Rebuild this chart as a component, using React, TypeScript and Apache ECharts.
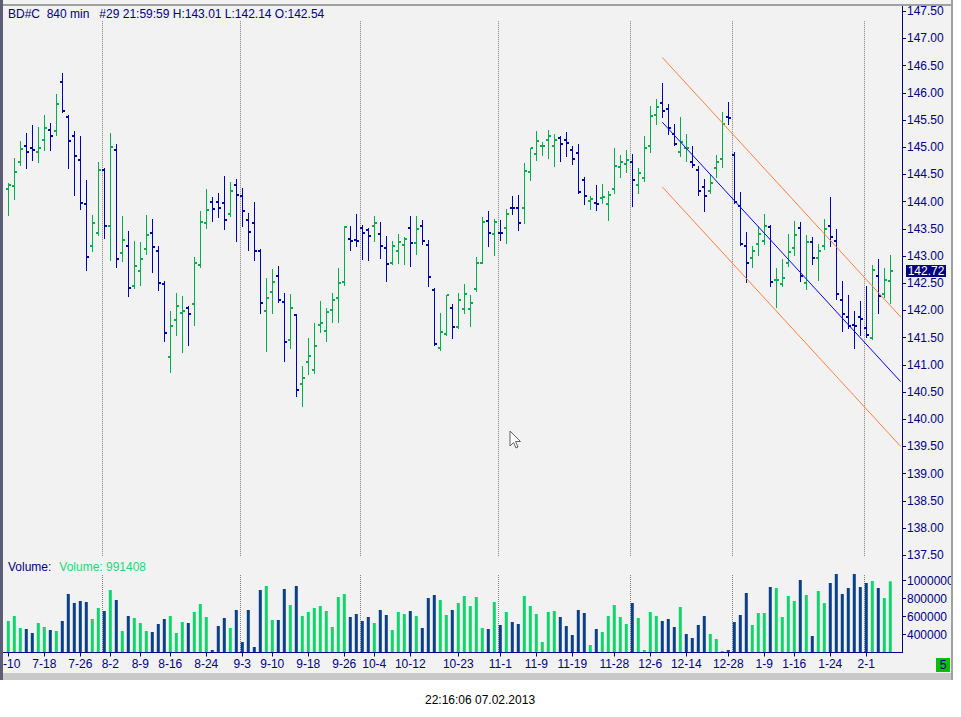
import React, { useEffect, useRef } from "react";
import * as echarts from "echarts";

const symbol = "BD#C";
const timeframe = "840 min";
const barTag = "#29";
const lastTime = "21:59:59";
const clockText = "22:16:06 07.02.2013";

const opens = [144.23,144.28,144.72,145.03,144.98,144.92,145.14,145.31,145.29,146.19,145.55,145.20,144.76,143.95,143.18,143.42,144.59,143.55,144.94,143.05,143.18,142.44,142.72,143.12,143.42,143.09,142.48,141.14,141.82,141.95,142.04,142.11,142.83,143.60,143.99,143.99,143.97,143.77,144.30,144.10,143.66,143.60,143.10,141.98,142.33,142.63,142.15,141.45,141.91,140.64,141.05,140.90,141.73,141.63,142.00,142.22,142.52,143.32,143.29,143.51,143.47,143.56,143.40,143.14,142.88,143.10,143.21,143.51,143.23,143.56,143.20,142.37,141.30,141.56,142.04,141.69,142.02,142.02,142.39,142.88,143.64,143.40,143.43,143.51,143.89,143.88,143.89,144.54,144.87,145.02,145.14,145.02,145.16,145.14,144.94,144.89,144.39,144.01,143.97,144.06,143.95,144.23,144.63,144.70,144.72,144.30,144.43,145.03,145.59,145.81,145.70,145.24,144.91,144.99,144.72,144.58,144.26,144.19,144.61,144.78,145.56,144.86,143.92,143.18,142.96,143.22,143.27,143.53,142.55,142.48,142.87,143.14,143.52,142.50,143.25,142.96,143.18,143.55,143.28,142.20,141.87,141.74,141.87,141.67,141.49,142.64,142.30,142.54];
const highs = [144.34,144.81,145.11,145.26,145.41,145.37,145.59,145.44,145.98,146.36,145.59,145.30,145.21,144.40,143.75,144.73,144.62,145.26,145.06,143.74,143.46,143.28,143.26,143.75,143.68,143.18,142.54,141.99,142.32,142.27,142.08,142.98,143.83,144.23,144.09,144.16,144.47,144.36,144.42,144.25,143.79,143.99,143.12,142.60,142.76,142.82,142.32,142.30,141.93,140.98,141.49,141.77,142.17,142.04,142.32,142.78,143.55,143.55,143.77,143.57,143.52,143.74,143.63,143.37,143.28,143.40,143.35,143.74,143.74,143.66,143.29,142.41,141.95,142.29,142.12,142.32,142.49,142.28,142.98,143.72,143.83,143.68,143.66,143.86,144.10,144.12,144.71,144.99,145.30,145.10,145.32,145.24,145.21,145.28,145.02,145.06,144.46,144.10,144.31,144.32,144.20,144.99,144.86,144.95,144.88,144.62,145.21,145.76,145.89,146.18,145.79,145.43,145.56,145.24,145.02,144.65,144.42,144.51,144.86,145.65,145.83,144.91,144.18,143.44,143.18,143.55,143.77,143.57,142.78,142.95,143.40,143.64,143.63,143.39,143.35,143.22,143.68,144.09,143.50,142.54,142.28,141.99,142.17,142.45,142.83,142.95,142.78,143.01];
const lows = [143.75,144.05,144.67,144.62,144.77,144.73,144.94,144.94,145.22,145.64,144.62,144.13,143.87,142.75,143.09,143.39,143.34,142.93,142.79,142.91,142.27,142.42,142.46,143.04,142.71,142.38,141.43,140.87,141.55,141.24,141.37,141.73,142.80,143.52,143.64,143.72,143.50,143.74,143.28,143.55,143.11,142.93,141.95,141.25,141.95,142.15,141.07,141.31,140.43,140.25,140.84,140.85,141.61,141.43,141.78,141.79,142.46,143.11,143.19,142.95,142.93,143.28,142.96,142.54,142.85,142.87,142.85,142.82,143.04,143.22,142.45,141.36,141.28,141.54,141.50,141.67,141.96,141.72,142.35,142.87,143.19,143.01,143.30,143.23,143.78,143.48,143.61,144.40,144.77,144.86,144.81,144.66,144.75,144.84,144.70,144.15,143.96,143.87,143.85,143.98,143.67,144.15,144.46,144.55,143.91,144.16,144.37,144.92,145.43,145.56,145.25,145.04,144.84,144.75,144.64,144.13,143.82,144.16,144.46,144.64,145.43,143.97,143.20,142.53,142.80,143.02,143.22,142.44,142.07,142.45,142.82,143.02,142.54,142.39,142.85,142.55,143.13,143.18,142.21,141.63,141.68,141.30,141.55,141.52,141.48,141.95,142.25,142.14];
const closes = [144.30,144.54,144.96,144.91,144.94,144.98,145.35,145.20,145.79,145.66,145.11,144.83,143.97,142.99,143.60,144.59,143.56,145.00,142.94,143.29,142.41,142.81,142.94,143.38,143.16,142.50,141.58,141.71,142.09,141.98,141.93,142.87,143.62,143.84,143.86,143.89,143.67,144.19,144.12,143.82,143.45,143.09,142.13,142.22,142.52,142.19,141.41,142.04,140.53,140.75,141.17,141.34,141.76,141.97,142.19,142.50,143.53,143.27,143.27,143.43,143.36,143.60,143.18,142.85,143.18,143.25,143.31,143.23,143.49,143.27,142.61,141.39,141.60,142.28,141.69,142.19,142.31,142.13,142.87,143.62,143.43,143.62,143.42,143.77,143.88,143.60,144.56,144.98,145.11,145.03,145.20,145.14,145.05,145.07,144.78,144.17,144.10,144.04,143.95,144.08,144.12,144.65,144.72,144.76,144.39,144.52,144.98,145.57,145.73,145.66,145.35,145.05,145.09,144.99,144.67,144.19,144.10,144.34,144.72,145.42,145.53,143.99,143.22,142.88,143.09,143.40,143.56,142.52,142.56,142.59,143.07,143.38,142.63,143.25,142.96,143.10,143.49,143.35,142.30,141.93,141.71,141.71,141.84,141.54,142.74,142.26,142.55,142.72];
const volumes = [550000,605500,472200,461000,416600,527700,483300,450000,438800,550000,850000,750000,772200,761100,572200,694400,661100,894400,783300,438800,605500,583300,527700,438800,427700,516600,572200,605500,416600,538800,527700,650000,738800,594400,227700,494400,583300,472200,672200,316600,672200,261000,894400,938800,561100,561100,905500,727700,938800,605500,650000,694400,716600,661100,483300,816600,850000,594400,627700,550000,594400,527700,672200,616600,450000,650000,627700,661100,605500,472200,805500,838800,783300,616600,672200,750000,827700,716600,816600,472200,461000,761100,505500,650000,538800,516600,827700,716600,627700,316600,650000,661100,594400,494400,394400,672200,638800,283300,461000,427700,605500,727700,594400,516600,750000,583300,227700,650000,605500,550000,572200,483300,705500,405500,361000,505500,605500,405500,350000,216600,227700,538800,616600,861100,505500,638800,638800,927700,916600,594400,827700,772200,1005500,838800,383300,883300,750000,972200,1072200,850000,916600,1072200,927700,972200,994400,916600,805500,991408];

const labelIdx = [0,6,12,17,22,27,33,39,44,50,56,61,67,75,82,88,94,101,107,113,120,126,131,137,143];
const labelText = ["7-10","7-18","7-26","8-2","8-9","8-16","8-24","9-3","9-10","9-18","9-26","10-4","10-12","10-23","11-1","11-9","11-19","11-28","12-6","12-14","12-28","1-9","1-16","1-24","2-1"];
const separatorIdx = [16,39,59,82,104,121,143];

const priceTicks = { min: 137.5, max: 147.5, step: 0.5 };
const volumeTicks = { min: 200000, max: 1200000, step: 200000 };

const channelX = [109, 148.73];
const channelMid = [145.46, 140.69];
const channelHalf = 1.19;

const UP = "#00b050";
const DOWN = "#0000a8";
const VUP = "#10d46c";
const VDOWN = "#0a3f8a";
const NAVY = "#000080";
const FONT = '"Liberation Sans", Arial, sans-serif';

function buildOption() {
  const n = closes.length;
  const last = n - 1;
  const ohlc = closes.map((c, i) => [i, opens[i], highs[i], lows[i], c]);
  const vol = volumes.map((v, i) => ({
    value: [i, v],
    itemStyle: { color: closes[i] > opens[i] ? VUP : VDOWN },
  }));
  const header =
    `${symbol}\u00a0\u00a0${timeframe}\u00a0\u00a0\u00a0${barTag} ${lastTime} ` +
    `H:${highs[last].toFixed(2)} L:${lows[last].toFixed(2)} O:${opens[last].toFixed(2)}`;

  const xBase = { type: "value", min: -0.5, max: 149.12, splitLine: { show: false } };

  const sepRender = (top: number, bottomPad: number) => (params: any, api: any) => {
    const cs = params.coordSys;
    const x = Math.round(api.coord([api.value(0), api.value(1)])[0]) - 2 + 0.5;
    return {
      type: "line",
      shape: { x1: x, y1: cs.y + top, x2: x, y2: cs.y + cs.height + bottomPad },
      style: { stroke: "#808080", lineWidth: 1, lineDash: [1, 1] },
      silent: true,
    };
  };

  return {
    animation: false,
    backgroundColor: "#ffffff",
    grid: [
      { left: 5.3, top: 11.2, width: 897.7, height: 544, containLabel: false, outerBoundsMode: "none" },
      { left: 5.3, top: 562.5, width: 897.7, height: 90, containLabel: false, outerBoundsMode: "none" },
    ],
    xAxis: [
      { ...xBase, gridIndex: 0, show: false, axisLine: { show: false, onZero: false } },
      {
        ...xBase,
        gridIndex: 1,
        axisLine: { show: false, onZero: false },
        axisTick: { show: true, length: 4, customValues: labelIdx, lineStyle: { color: NAVY } },
        axisLabel: {
          customValues: labelIdx,
          formatter: (v: number) => labelText[labelIdx.indexOf(Math.round(v))] ?? "",
          color: NAVY,
          fontSize: 12,
          fontFamily: FONT,
          margin: 5,
        },
      },
    ],
    yAxis: [
      {
        type: "value",
        gridIndex: 0,
        position: "right",
        min: priceTicks.min,
        max: priceTicks.max,
        interval: priceTicks.step,
        splitLine: { show: false },
        axisLine: { show: false, onZero: false },
        axisTick: { show: true, length: 3, lineStyle: { color: NAVY } },
        axisLabel: { formatter: (v: number) => v.toFixed(2), color: NAVY, fontSize: 12, fontFamily: FONT, margin: 4 },
      },
      {
        type: "value",
        gridIndex: 1,
        position: "right",
        min: volumeTicks.min,
        max: volumeTicks.max,
        interval: volumeTicks.step,
        splitLine: { show: false },
        axisLine: { show: false, onZero: false },
        axisTick: { show: true, length: 3, lineStyle: { color: NAVY } },
        axisLabel: {
          showMinLabel: false,
          showMaxLabel: false,
          formatter: (v: number) => String(v),
          color: NAVY,
          fontSize: 12,
          fontFamily: FONT,
          margin: 4,
        },
      },
    ],
    series: [
      {
        type: "custom",
        xAxisIndex: 0,
        yAxisIndex: 0,
        data: separatorIdx.map((i) => [i, 140]),
        renderItem: sepRender(10, 2),
        z: 1,
      },
      {
        type: "custom",
        xAxisIndex: 1,
        yAxisIndex: 1,
        data: separatorIdx.map((i) => [i, 400000]),
        renderItem: sepRender(12.5, 0),
        z: 1,
      },
      {
        type: "custom",
        name: "price",
        xAxisIndex: 0,
        yAxisIndex: 0,
        data: ohlc,
        encode: { x: 0, y: [1, 2, 3, 4] },
        renderItem: (params: any, api: any) => {
          const i = api.value(0);
          const o = api.value(1), h = api.value(2), l = api.value(3), c = api.value(4);
          const cx = Math.round(api.coord([i, h])[0]);
          const yH = Math.round(api.coord([i, h])[1]);
          const yL = Math.round(api.coord([i, l])[1]);
          const yO = Math.round(api.coord([i, o])[1]);
          const yC = Math.round(api.coord([i, c])[1]);
          const color = c >= o ? UP : DOWN;
          return {
            type: "group",
            children: [
              { type: "rect", shape: { x: cx, y: yH, width: 1, height: yL - yH + 1 }, style: { fill: color } },
              { type: "rect", shape: { x: cx - 2, y: yO - 1, width: 2, height: 2 }, style: { fill: color } },
              { type: "rect", shape: { x: cx + 1, y: yC - 1, width: 2, height: 2 }, style: { fill: color } },
            ],
          };
        },
        z: 3,
      },
      {
        type: "line",
        xAxisIndex: 0,
        yAxisIndex: 0,
        data: [[channelX[0], channelMid[0]], [channelX[1], channelMid[1]]],
        symbol: "none",
        lineStyle: { color: "#0000ff", width: 1 },
        z: 4,
      },
      {
        type: "line",
        xAxisIndex: 0,
        yAxisIndex: 0,
        data: [[channelX[0], channelMid[0] + channelHalf], [channelX[1], channelMid[1] + channelHalf]],
        symbol: "none",
        lineStyle: { color: "#ff7f40", width: 1 },
        z: 4,
      },
      {
        type: "line",
        xAxisIndex: 0,
        yAxisIndex: 0,
        data: [[channelX[0], channelMid[0] - channelHalf], [channelX[1], channelMid[1] - channelHalf]],
        symbol: "none",
        lineStyle: { color: "#ff7f40", width: 1 },
        z: 4,
      },
      {
        type: "bar",
        xAxisIndex: 1,
        yAxisIndex: 1,
        data: vol,
        barWidth: 3,
        z: 3,
      },
      {
        type: "custom",
        xAxisIndex: 0,
        yAxisIndex: 0,
        data: [[last, closes[last]]],
        renderItem: (params: any, api: any) => {
          const cs = params.coordSys;
          const y = api.coord([api.value(0), api.value(1)])[1];
          const x0 = cs.x + cs.width + 3;
          return {
            type: "group",
            children: [
              { type: "rect", shape: { x: x0, y: Math.round(y) - 6, width: 40, height: 12 }, style: { fill: NAVY } },
              {
                type: "text",
                style: {
                  x: x0 + 20,
                  y: Math.round(y),
                  text: api.value(1).toFixed(2),
                  fill: "#ffffff",
                  font: `12px ${FONT}`,
                  align: "center",
                  verticalAlign: "middle",
                },
              },
            ],
          };
        },
        z: 20,
      },
    ],
    graphic: [
      { type: "rect", shape: { x: 0, y: 0, width: 951, height: 673 }, style: { fill: "#f2f2f2" }, z: -1, silent: true },
      { type: "rect", shape: { x: 0, y: 4, width: 951, height: 2 }, style: { fill: "#a0a0a0" }, z: 50, silent: true },
      { type: "rect", shape: { x: 902, y: 5, width: 1, height: 648 }, style: { fill: NAVY }, z: 40, silent: true },
      { type: "rect", shape: { x: 3, y: 652, width: 900, height: 1 }, style: { fill: NAVY }, z: 40, silent: true },
      { type: "rect", shape: { x: 951, y: 0, width: 10, height: 717 }, style: { fill: "#ffffff" }, z: 50, silent: true },
      { type: "rect", shape: { x: 951, y: 0, width: 2, height: 680 }, style: { fill: "#a0a0a0" }, z: 51, silent: true },
      { type: "rect", shape: { x: 0, y: 673, width: 953, height: 7 }, style: { fill: "#c8c8c8" }, z: 50, silent: true },
      { type: "rect", shape: { x: 0, y: 0, width: 3, height: 680 }, style: { fill: "#5c5c74" }, z: 52, silent: true },
      {
        type: "text",
        x: 8,
        y: 14.2,
        z: 60,
        silent: true,
        style: { text: header, fill: NAVY, font: `12px ${FONT}`, verticalAlign: "middle" },
      },
      {
        type: "text",
        x: 8,
        y: 566.5,
        z: 60,
        silent: true,
        style: { text: "Volume:", fill: NAVY, font: `12px ${FONT}`, verticalAlign: "middle" },
      },
      {
        type: "text",
        x: 59.3,
        y: 566.5,
        z: 60,
        silent: true,
        style: { text: `Volume: ${volumes[last]}`, fill: "#20d878", font: `12px ${FONT}`, verticalAlign: "middle" },
      },
      {
        type: "text",
        x: 480,
        y: 700,
        z: 60,
        silent: true,
        style: { text: clockText, fill: "#000000", font: `12px ${FONT}`, align: "center", verticalAlign: "middle" },
      },
      { type: "rect", shape: { x: 936, y: 658, width: 14, height: 14 }, style: { fill: "#00c000" }, z: 60, silent: true },
      {
        type: "text",
        x: 943,
        y: 665,
        z: 61,
        silent: true,
        style: { text: "5", fill: NAVY, font: `12px ${FONT}`, align: "center", verticalAlign: "middle" },
      },
      {
        type: "polygon",
        z: 70,
        silent: true,
        shape: {
          points: [
            [510, 431], [510, 446], [513.5, 442.5], [516, 448], [518, 447], [515.5, 441.5], [520.5, 441.5],
          ],
        },
        style: { fill: "#ffffff", stroke: "#606060", lineWidth: 1 },
      },
    ],
  };
}

export default function App() {
  const ref = useRef<HTMLDivElement>(null);
  useEffect(() => {
    if (!ref.current) return;
    const chart = echarts.init(ref.current, null, { renderer: "svg" });
    chart.setOption(buildOption() as any);
    return () => chart.dispose();
  }, []);
  return (
    <div
      ref={ref}
      style={{ position: "fixed", left: 0, top: 0, width: 961, height: 717, background: "#ffffff" }}
    />
  );
}
